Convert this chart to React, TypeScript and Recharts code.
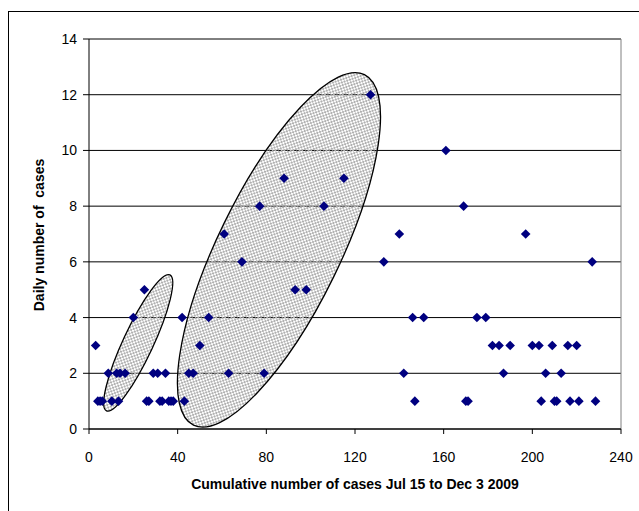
import React from 'react';
import { ScatterChart, Scatter, XAxis, YAxis, CartesianGrid, ReferenceLine } from 'recharts';

// Cumulative number of cases (x) and daily number of cases (y)
const cumulativeCases = [3, 4, 5, 6, 8.7, 10.3, 12.5, 13.3, 14, 16.3, 20, 25, 26, 27, 29, 31, 32, 33, 34.5, 36, 37, 38, 42, 43, 45, 47, 50, 54, 61, 63, 69, 77, 79, 88, 93, 98, 106, 115, 127, 133, 140, 142, 146, 147, 151, 161, 169, 170, 171, 175, 179, 182, 185, 187, 190, 197, 200, 203, 204, 206, 209, 210, 211, 213, 216, 217, 220, 221, 227, 228.5];
const dailyCases = [3, 1, 1, 1, 2, 1, 2, 1, 2, 2, 4, 5, 1, 1, 2, 2, 1, 1, 2, 1, 1, 1, 4, 1, 2, 2, 3, 4, 7, 2, 6, 8, 2, 9, 5, 5, 8, 9, 12, 6, 7, 2, 4, 1, 4, 10, 8, 1, 1, 4, 4, 3, 3, 2, 3, 7, 3, 3, 1, 2, 3, 1, 1, 2, 3, 1, 3, 1, 6, 1];

const xTicks = [0, 40, 80, 120, 160, 200, 240];
const yTicks = [0, 2, 4, 6, 8, 10, 12, 14];

// Highlighted clusters (centres in data units)
const clusterX = [22.2, 85.7];
const clusterY = [3.09, 6.43];

const xTitle = 'Cumulative number of cases Jul 15 to Dec 3 2009';
const yTitle = 'Daily number of  cases';

const points = cumulativeCases.map((x, i) => ({ x, y: dailyCases[i] }));
const clusters = clusterX.map((x, i) => ({ x, y: clusterY[i], idx: i }));

// ellipse geometry in px (style): [rx, ry, rotation]
const ELLIPSE_STYLE = [
  [75, 15, -65],
  [195, 61, -64],
];

const FONT = 'Arial, "Liberation Sans", sans-serif';

const Diamond = (props: any) => {
  const { cx, cy } = props;
  if (cx == null || cy == null) return null;
  const r = 4.8;
  return (
    <polygon
      points={`${cx},${cy - r} ${cx + r},${cy} ${cx},${cy + r} ${cx - r},${cy}`}
      fill="#000080"
    />
  );
};

const EllipseShape = (props: any) => {
  const { cx, cy, payload } = props;
  if (cx == null || cy == null) return null;
  const [rx, ry, rot] = ELLIPSE_STYLE[payload.idx];
  const pid = `chk${payload.idx}`;
  return (
    <g>
      <defs>
        <pattern id={pid} width={4} height={4} patternUnits="userSpaceOnUse">
          <rect x={0} y={0} width={2} height={2} fill="#b0b0b0" />
          <rect x={2} y={2} width={2} height={2} fill="#b0b0b0" />
        </pattern>
      </defs>
      <ellipse
        cx={cx}
        cy={cy}
        rx={rx}
        ry={ry}
        transform={`rotate(${rot} ${cx} ${cy})`}
        fill={`url(#${pid})`}
        stroke="#000"
        strokeWidth={1.3}
      />
    </g>
  );
};

export default function App() {
  return (
    <div style={{ position: 'absolute', left: 0, top: 0, width: 639, height: 511, overflow: 'hidden', background: '#fff' }}>
      <div
        style={{
          position: 'absolute',
          left: 8,
          top: 11,
          width: 700,
          height: 600,
          borderLeft: '1.5px solid #000',
          borderTop: '1.5px solid #000',
          boxSizing: 'border-box',
        }}
      />
      <div style={{ position: 'absolute', left: 8, top: 8 }}>
        <ScatterChart width={631} height={503} margin={{ top: 31, right: 18, bottom: 52, left: 41 }}>
          <CartesianGrid horizontal vertical={false} stroke="#000" strokeWidth={1} />
          <XAxis
            type="number"
            dataKey="x"
            domain={[0, 240]}
            ticks={xTicks}
            interval={0}
            height={30}
            tickSize={5}
            tickMargin={18}
            axisLine={{ stroke: '#000' }}
            tickLine={{ stroke: '#000' }}
            tick={{ fill: '#000', fontSize: 14, fontFamily: FONT }}
            allowDataOverflow
          />
          <YAxis
            type="number"
            dataKey="y"
            domain={[0, 14]}
            ticks={yTicks}
            interval={0}
            width={40}
            tickSize={6}
            tickMargin={6}
            axisLine={{ stroke: '#000' }}
            tickLine={{ stroke: '#000' }}
            tick={{ fill: '#000', fontSize: 14, fontFamily: FONT }}
            allowDataOverflow
          />
          <ReferenceLine y={14} stroke="#808080" strokeWidth={1} />
          <ReferenceLine x={240} stroke="#808080" strokeWidth={1} />
          <Scatter data={clusters} shape={EllipseShape} isAnimationActive={false} />
          <Scatter data={points} shape={Diamond} isAnimationActive={false} />
        </ScatterChart>
      </div>
      <svg style={{ position: 'absolute', left: 0, top: 0 }} width={639} height={511} pointerEvents="none">
        <text
          x={355}
          y={489}
          textAnchor="middle"
          fontFamily={FONT}
          fontWeight="bold"
          fontSize={14}
          fill="#000"
          style={{ whiteSpace: 'pre' }}
        >
          {xTitle}
        </text>
        <text
          x={0}
          y={0}
          transform="translate(44 235) rotate(-90)"
          textAnchor="middle"
          fontFamily={FONT}
          fontWeight="bold"
          fontSize={14}
          fill="#000"
          style={{ whiteSpace: 'pre' }}
        >
          {yTitle}
        </text>
      </svg>
    </div>
  );
}
